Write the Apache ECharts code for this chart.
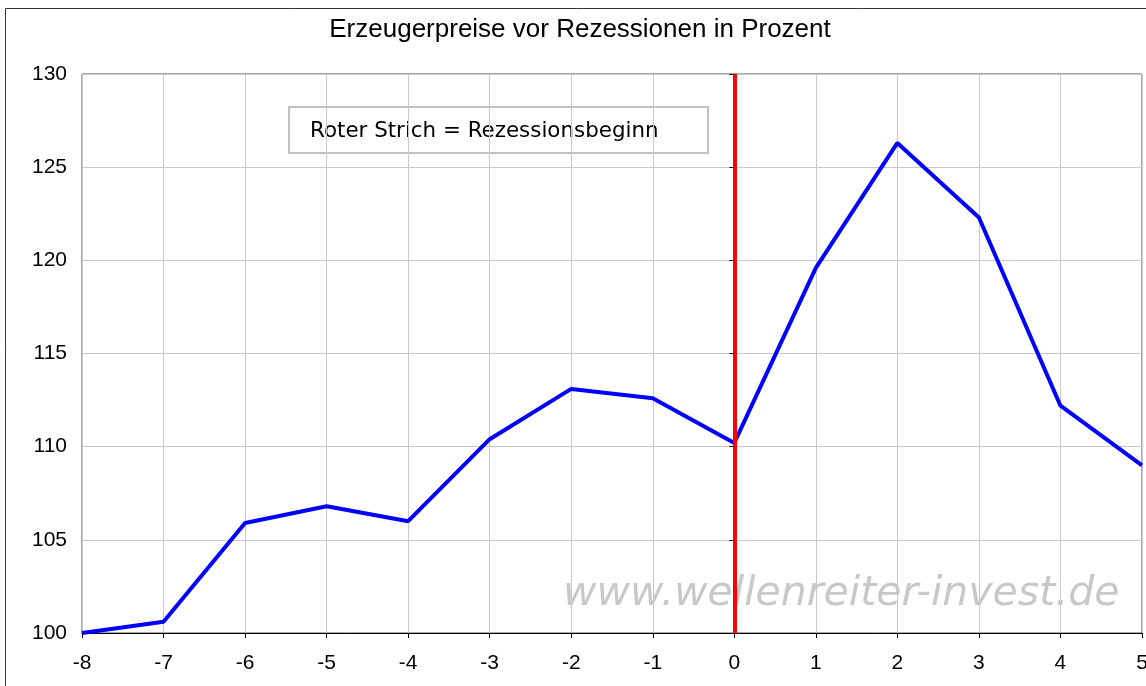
<!DOCTYPE html>
<html>
<head>
<meta charset="utf-8">
<script src="https://cdn.jsdelivr.net/npm/echarts@6/dist/echarts.min.js"></script>
<style>
  html, body { margin: 0; padding: 0; background: #fff; }
  #chart { width: 1146px; height: 686px; }
</style>
</head>
<body>
<div id="chart"></div>
<script>
// Quartale relativ zum Rezessionsbeginn und Erzeugerpreise (Start = 100)
const quarters = [-8, -7, -6, -5, -4, -3, -2, -1, 0, 1, 2, 3, 4, 5];
const prices = [100, 100.6, 105.9, 106.8, 106.0, 110.4, 113.1, 112.6, 110.2, 119.6, 126.3, 122.3, 112.2, 109.0];
const recessionStart = 0;
const yTicks = [100, 105, 110, 115, 120, 125, 130];

const titleText = 'Erzeugerpreise vor Rezessionen in Prozent';
const noteText = 'Roter Strich = Rezessionsbeginn';
const watermark = 'www.wellenreiter-invest.de';

const chart = echarts.init(document.getElementById('chart'));
const labelFont = { color: '#000', fontFamily: 'Liberation Sans, Arial, sans-serif', fontSize: 21 };

chart.setOption({
  animation: false,
  backgroundColor: '#fff',
  grid: {
    left: 82, right: 4, top: 74, bottom: 53,
    outerBoundsMode: 'none', containLabel: false,
    show: true, borderColor: '#555', borderWidth: 1
  },
  xAxis: {
    type: 'value',
    min: quarters[0],
    max: quarters[quarters.length - 1],
    interval: 1,
    axisLine: { onZero: false, lineStyle: { color: '#000', width: 1 } },
    axisTick: { length: 5, lineStyle: { color: '#000' } },
    axisLabel: Object.assign({ margin: 20 }, labelFont),
    splitLine: { lineStyle: { color: '#c8c8c8', width: 1 } }
  },
  yAxis: {
    type: 'value',
    min: yTicks[0],
    max: yTicks[yTicks.length - 1],
    interval: 5,
    axisLine: { show: true, lineStyle: { color: '#000', width: 1 } },
    axisTick: { show: true, length: 5, lineStyle: { color: '#000' } },
    axisLabel: Object.assign({ margin: 15 }, labelFont),
    splitLine: { lineStyle: { color: '#c8c8c8', width: 1 } }
  },
  graphic: [
    // äußerer Rahmen
    { type: 'rect', z: -10, silent: true, shape: { x: 5.5, y: 8.5, width: 1160, height: 700 },
      style: { fill: null, stroke: '#333', lineWidth: 1 } },
    { type: 'text', x: 580, y: 30, style: { text: titleText, align: 'center', verticalAlign: 'middle',
      font: '26px "Liberation Sans", Arial, sans-serif', fill: '#000' } },
    { type: 'rect', shape: { x: 289, y: 107, width: 419, height: 46 },
      style: { fill: '#fff', stroke: '#c0c0c0', lineWidth: 2 } },
    { type: 'text', x: 310, y: 131, style: { text: noteText, align: 'left', verticalAlign: 'middle',
      font: '21.4px "DejaVu Sans", Verdana, sans-serif', fill: '#000' } },
    { type: 'text', x: 563, y: 594, z: 1, style: { text: watermark, align: 'left', verticalAlign: 'middle',
      font: 'italic 41px "DejaVu Sans", Verdana, sans-serif', fill: '#c8c8c8' } }
  ],
  series: [{
    type: 'line',
    data: quarters.map((q, i) => [q, prices[i]]),
    symbol: 'none',
    lineStyle: { color: '#0000ff', width: 4 },
    z: 3,
    markLine: {
      silent: true,
      symbol: 'none',
      label: { show: false },
      lineStyle: { color: '#ff0000', width: 4, type: 'solid' },
      data: [{ xAxis: recessionStart }],
      z: 5
    }
  }]
});
</script>
</body>
</html>
